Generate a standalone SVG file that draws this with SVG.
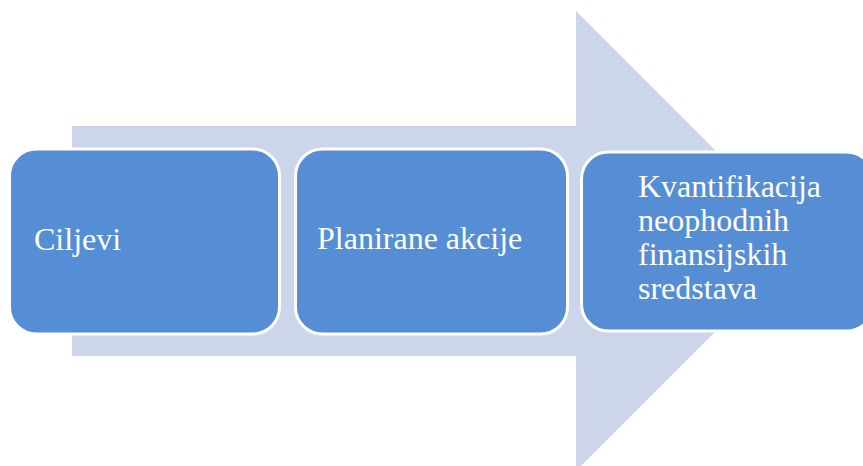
<svg xmlns="http://www.w3.org/2000/svg" width="863" height="466" viewBox="0 0 863 466">
<defs>
<style>
.box{fill:#558ED5;stroke:#FFFFFF;stroke-width:3}
.lbl{font-family:"Liberation Serif","Times New Roman",serif;font-size:32px;fill:#FFFFFF}
</style>
</defs>
<rect width="863" height="466" fill="#FFFFFF"/>
<g id="connectors">
<polygon points="72,126 576,126 576,11 806,241 576,471 576,356 72,356" fill="#CDD5EA"/>
</g>
<g id="node1">
<rect class="box" x="9.5" y="149" width="270" height="185" rx="27" ry="27"/>
<text class="lbl" x="34" y="250">Ciljevi</text>
</g>
<g id="node2">
<rect class="box" x="295.5" y="149" width="272" height="185" rx="27" ry="27"/>
<text class="lbl" x="317" y="249">Planirane akcije</text>
</g>
<g id="node3">
<rect class="box" x="581.5" y="152" width="292" height="179" rx="27" ry="27"/>
<text class="lbl" x="638" y="197">Kvantifikacija</text>
<text class="lbl" x="638" y="231">neophodnih</text>
<text class="lbl" x="638" y="265">finansijskih</text>
<text class="lbl" x="638" y="299">sredstava</text>
</g>
</svg>
